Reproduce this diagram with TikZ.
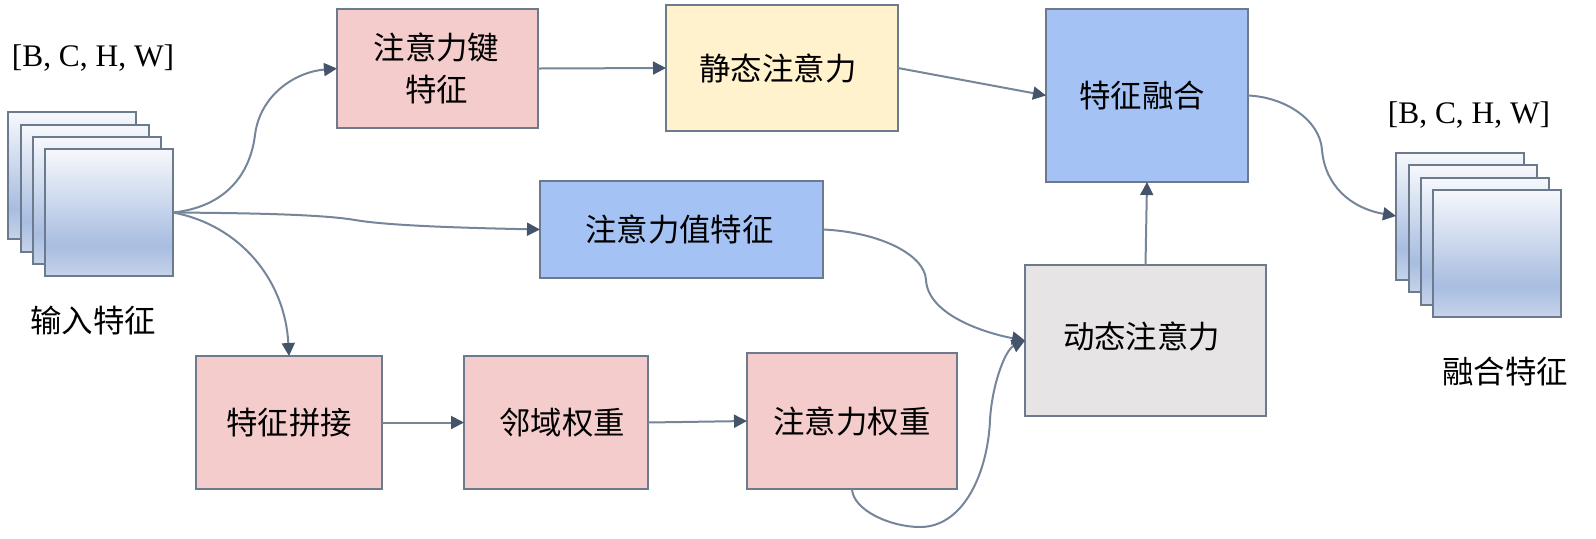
\documentclass[tikz,border=0pt]{standalone}
\usepackage{fontspec}
\setmainfont{Liberation Serif}
\newfontfamily\cjk{Noto Sans CJK SC}
\usetikzlibrary{arrows.meta}
\definecolor{edgec}{HTML}{6B7A8C}
\definecolor{linec}{HTML}{75859A}
\definecolor{tipc}{HTML}{44546A}
\definecolor{pinkc}{HTML}{F4CCCC}
\definecolor{yellowc}{HTML}{FFF2CC}
\definecolor{bluec}{HTML}{A4C2F4}
\definecolor{grayc}{HTML}{E6E4E4}
\definecolor{shadeb}{HTML}{C6D3EA}
\definecolor{shadem}{HTML}{A8BDE0}
\definecolor{shadet}{HTML}{F6F8FC}
\pgfdeclareverticalshading{stackshade}{100bp}{
  color(0bp)=(shadeb);
  color(25bp)=(shadeb);
  color(37bp)=(shadem);
  color(75bp)=(shadet);
  color(100bp)=(shadet)}
\tikzset{
  boxnode/.style={draw=edgec,line width=1pt,inner sep=0pt,outer sep=0pt,align=center,
    font=\cjk\fontsize{15.7}{21}\selectfont},
  stacknode/.style={draw=edgec,line width=1pt,inner sep=0pt,outer sep=0pt,
    minimum width=64pt,minimum height=63.5pt,shading=stackshade},
  labelnode/.style={inner sep=0pt,font=\fontsize{15.7}{18}\selectfont},
  cjklabel/.style={inner sep=0pt,font=\cjk\fontsize{15.7}{18}\selectfont},
  conn/.style={draw=linec,line width=1pt,-{Triangle[length=6.5pt,width=6.5pt,color=tipc]}},
}
\begin{document}
\begin{tikzpicture}[x=0.5pt,y=-0.5pt]
\useasboundingbox (0,0) rectangle (1596,538);
% input stack
\node[stacknode] (s1) at (72,175.5) {};
\node[stacknode] (s2) at (84.5,188) {};
\node[stacknode] (s3) at (96.5,200.5) {};
\node[stacknode] (s4) at (109,212.5) {};
% output stack
\node[stacknode] (r1) at (1460,216) {};
\node[stacknode] (r2) at (1472.5,228.5) {};
\node[stacknode] (r3) at (1485,241) {};
\node[stacknode] (r4) at (1497,253) {};
% boxes
\node[boxnode,fill=pinkc,minimum width=100.5pt,minimum height=59.5pt] (key) at (437.5,68.5) {\kern-1pt 注意力键\\\kern-1pt 特征};
\node[boxnode,fill=yellowc,minimum width=116pt,minimum height=63pt] (static) at (782,68) {\kern-4pt\raisebox{-0.5pt}{静态注意力}};
\node[boxnode,fill=bluec,minimum width=101pt,minimum height=86.5pt] (fusion) at (1147,95.5) {\kern-5pt\raisebox{-0.5pt}{特征融合}};
\node[boxnode,fill=bluec,minimum width=141.5pt,minimum height=48.5pt] (val) at (681.5,229.5) {\kern-2pt 注意力值特征};
\node[boxnode,fill=grayc,minimum width=120.5pt,minimum height=75.5pt] (dyn) at (1145.5,340.5) {\kern-4pt\raisebox{5pt}{动态注意力}};
\node[boxnode,fill=pinkc,minimum width=93pt,minimum height=66.5pt] (seam) at (289,422.5) {特征拼接};
\node[boxnode,fill=pinkc,minimum width=92pt,minimum height=66.5pt] (near) at (556,422.5) {\kern6pt 邻域权重};
\node[boxnode,fill=pinkc,minimum width=105pt,minimum height=68pt] (wei) at (852,421) {注意力权重};
% labels
\node[labelnode] (t1) at (93,58) {[B, C, H, W]};
\node[labelnode] (t2) at (1469,115) {[B, C, H, W]};
\node[cjklabel] (t3) at (93,321) {输入特征};
\node[cjklabel] (t4) at (1505,372) {融合特征};
% connectors
\draw[conn] (s4.east) .. controls (225,207) and (250,175) .. (255,135) .. controls (260,95) and (295,72) .. (key.west);
\draw[conn] (s4.east) .. controls (240,213) and (320,214) .. (355,220) .. controls (390,226) and (470,228) .. (val.west);
\draw[conn] (s4.east) .. controls (240,225) and (285,280) .. (seam.north);
\draw[conn] (key.east) -- (static.west);
\draw[conn] (static.east) -- (fusion.west);
\draw[conn] (fusion.east) .. controls (1285,97) and (1320,120) .. (1322,150) .. controls (1325,185) and (1350,208) .. (r1.west);
\draw[conn] (val.east) .. controls (880,232) and (925,255) .. (926,280) .. controls (928,315) and (985,333) .. (dyn.west);
\draw[conn] (852,489) .. controls (853,510) and (890,527) .. (920,527) .. controls (965,527) and (988,470) .. (990,420) .. controls (992,385) and (1005,350) .. (dyn.west);
\draw[conn] (dyn.north) -- (fusion.south);
\draw[conn] (seam.east) -- (near.west);
\draw[conn] (near.east) -- (wei.west);
\end{tikzpicture}
\end{document}
